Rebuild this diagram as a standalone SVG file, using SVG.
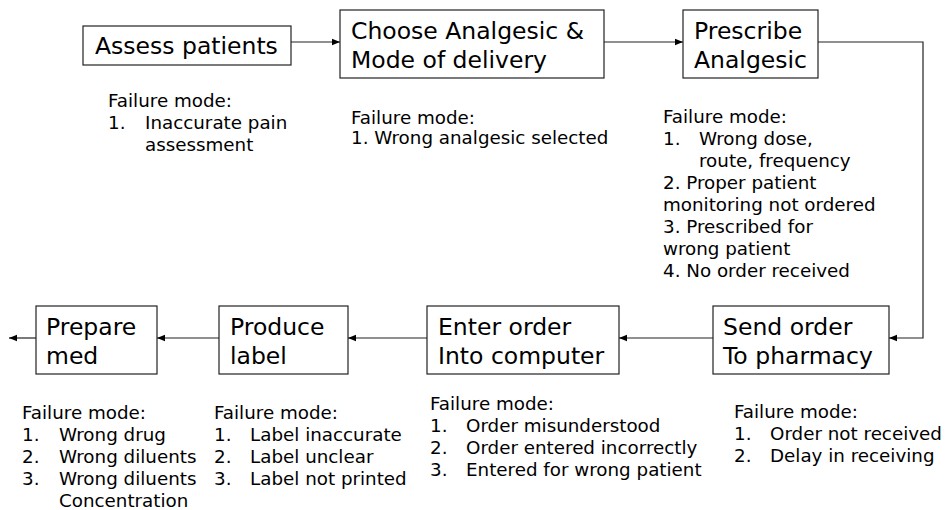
<svg xmlns="http://www.w3.org/2000/svg" width="948" height="510" viewBox="0 0 948 510">
<defs>
<marker id="ah" viewBox="0 0 10 10" refX="10" refY="5" markerWidth="8" markerHeight="8" markerUnits="userSpaceOnUse" orient="auto">
<path d="M0,1 L10,5 L0,9 Z" fill="#000"/>
</marker>
</defs>
<style>
rect.box{fill:#fff;stroke:#222;stroke-width:1.2}
.lbl{font-family:"DejaVu Sans","Verdana",sans-serif;font-size:23.5px;fill:#000}
.fm{font-family:"DejaVu Sans","Verdana",sans-serif;font-size:18.3px;fill:#000}
.conn{fill:none;stroke:#222;stroke-width:1.2}
</style>
<rect width="948" height="510" fill="#fff"/>
<g id="connectors">
<path class="conn" d="M291,42 H340" marker-end="url(#ah)"/>
<path class="conn" d="M604,42 H683" marker-end="url(#ah)"/>
<path class="conn" d="M818,42 H923 V338 H889" marker-end="url(#ah)"/>
<path class="conn" d="M713,338 H619" marker-end="url(#ah)"/>
<path class="conn" d="M427,338 H348" marker-end="url(#ah)"/>
<path class="conn" d="M219,338 H157" marker-end="url(#ah)"/>
<path class="conn" d="M36,338 H9" marker-end="url(#ah)"/>
</g>
<g id="assess">
<rect class="box" x="83" y="26" width="208" height="39"/>
<text class="lbl" x="95" y="54">Assess patients</text>
<text class="fm" x="108" y="107">Failure mode:</text>
<text class="fm" x="108" y="129">1.</text>
<text class="fm" x="145" y="129">Inaccurate pain</text>
<text class="fm" x="145" y="151">assessment</text>
</g>
<g id="choose">
<rect class="box" x="340" y="10" width="264" height="68"/>
<text class="lbl" x="351" y="39">Choose Analgesic &amp;</text>
<text class="lbl" x="351" y="68">Mode of delivery</text>
<text class="fm" x="351" y="124">Failure mode:</text>
<text class="fm" x="351" y="144">1. Wrong analgesic selected</text>
</g>
<g id="prescribe">
<rect class="box" x="683" y="10" width="135" height="68"/>
<text class="lbl" x="694" y="39">Prescribe</text>
<text class="lbl" x="694" y="68">Analgesic</text>
<text class="fm" x="663" y="123">Failure mode:</text>
<text class="fm" x="663" y="145">1.</text>
<text class="fm" x="699" y="145">Wrong dose,</text>
<text class="fm" x="699" y="167">route, frequency</text>
<text class="fm" x="663" y="189">2. Proper patient</text>
<text class="fm" x="663" y="211">monitoring not ordered</text>
<text class="fm" x="663" y="233">3. Prescribed for</text>
<text class="fm" x="663" y="255">wrong patient</text>
<text class="fm" x="663" y="277">4. No order received</text>
</g>
<g id="send">
<rect class="box" x="713" y="306" width="176" height="68"/>
<text class="lbl" x="723" y="335">Send order</text>
<text class="lbl" x="723" y="364">To pharmacy</text>
<text class="fm" x="734" y="418">Failure mode:</text>
<text class="fm" x="734" y="440">1.</text>
<text class="fm" x="770" y="440">Order not received</text>
<text class="fm" x="734" y="462">2.</text>
<text class="fm" x="770" y="462">Delay in receiving</text>
</g>
<g id="enter">
<rect class="box" x="427" y="306" width="192" height="68"/>
<text class="lbl" x="438" y="335">Enter order</text>
<text class="lbl" x="438" y="364">Into computer</text>
<text class="fm" x="430" y="410">Failure mode:</text>
<text class="fm" x="430" y="432">1.</text>
<text class="fm" x="466" y="432">Order misunderstood</text>
<text class="fm" x="430" y="454">2.</text>
<text class="fm" x="466" y="454">Order entered incorrectly</text>
<text class="fm" x="430" y="476">3.</text>
<text class="fm" x="466" y="476">Entered for wrong patient</text>
</g>
<g id="produce">
<rect class="box" x="219" y="306" width="129" height="68"/>
<text class="lbl" x="230" y="335">Produce</text>
<text class="lbl" x="230" y="364">label</text>
<text class="fm" x="214" y="419">Failure mode:</text>
<text class="fm" x="214" y="441">1.</text>
<text class="fm" x="250" y="441">Label inaccurate</text>
<text class="fm" x="214" y="463">2.</text>
<text class="fm" x="250" y="463">Label unclear</text>
<text class="fm" x="214" y="485">3.</text>
<text class="fm" x="250" y="485">Label not printed</text>
</g>
<g id="prepare">
<rect class="box" x="36" y="306" width="121" height="68"/>
<text class="lbl" x="46" y="335">Prepare</text>
<text class="lbl" x="46" y="364">med</text>
<text class="fm" x="22" y="419">Failure mode:</text>
<text class="fm" x="22" y="441">1.</text>
<text class="fm" x="59" y="441">Wrong drug</text>
<text class="fm" x="22" y="463">2.</text>
<text class="fm" x="59" y="463">Wrong diluents</text>
<text class="fm" x="22" y="485">3.</text>
<text class="fm" x="59" y="485">Wrong diluents</text>
<text class="fm" x="59" y="507">Concentration</text>
</g>
</svg>
